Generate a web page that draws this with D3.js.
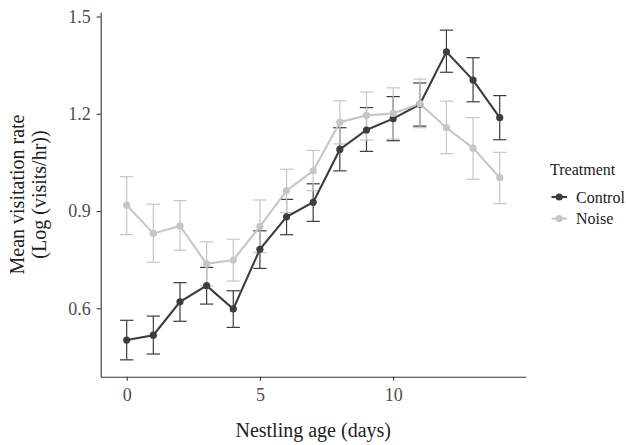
<!DOCTYPE html>
<html>
<head>
<meta charset="utf-8">
<script src="https://cdn.jsdelivr.net/npm/d3@7"></script>
<style>
    body { margin: 0; background: #fff; }
    svg text { font-family: "Liberation Serif", "DejaVu Serif", serif; fill: #222; }
    svg .tick text { font-size: 18px; fill: #4d4d4d; }
</style>
</head>
<body>
<div id="chart"></div>
<script>
// Data
var ages            =   [ 0, 1, 2, 3, 4, 5, 6, 7, 8, 9, 10, 11, 12, 13, 14 ];
var control_mean    =   [ 0.502, 0.517, 0.620, 0.670, 0.598, 0.782, 0.882, 0.927, 1.090, 1.150, 1.185, 1.229, 1.391, 1.304, 1.188 ];
var control_lo      =   [ 0.441, 0.459, 0.560, 0.613, 0.541, 0.723, 0.827, 0.868, 1.024, 1.084, 1.117, 1.162, 1.328, 1.237, 1.120 ];
var control_hi      =   [ 0.563, 0.576, 0.679, 0.726, 0.654, 0.839, 0.936, 0.984, 1.157, 1.219, 1.253, 1.295, 1.458, 1.373, 1.256 ];
var noise_mean      =   [ 0.918, 0.831, 0.854, 0.737, 0.749, 0.852, 0.963, 1.024, 1.174, 1.195, 1.201, 1.231, 1.157, 1.094, 1.003 ];
var noise_lo        =   [ 0.827, 0.742, 0.779, 0.669, 0.684, 0.772, 0.895, 0.963, 1.107, 1.119, 1.122, 1.157, 1.077, 0.998, 0.923 ];
var noise_hi        =   [ 1.006, 0.921, 0.932, 0.805, 0.813, 0.934, 1.029, 1.087, 1.240, 1.267, 1.280, 1.307, 1.239, 1.188, 1.081 ];
var treatments      =   [ 'Control', 'Noise' ];
var x_ticks         =   [ 0, 5, 10 ];
var y_ticks         =   [ 0.6, 0.9, 1.2, 1.5 ];

var chart_width     =   626;
var chart_height    =   445;
var colors          =   { Control: '#3d3d3d', Noise: '#c6c6c6' };

var series = [
    { name: 'Control', mean: control_mean, lo: control_lo, hi: control_hi },
    { name: 'Noise',   mean: noise_mean,   lo: noise_lo,   hi: noise_hi }
];
series.forEach(function(s){
    s.values = ages.map(function(a, i){
        return { x: a, y: s.mean[i], lo: s.lo[i], hi: s.hi[i] };
    });
});

// Create SVG Element
var svg             =   d3.select( '#chart' )
    .append( 'svg' )
    .attr( 'width', chart_width )
    .attr( 'height', chart_height );

// Create Scales (ggplot style 5% expansion incl. error bar width)
var x_scale         =   d3.scaleLinear()
    .domain([ -0.975, 14.975 ])
    .range([ 100.7, 525.7 ]);

var y_scale         =   d3.scaleLinear()
    .domain([ 0.389, 1.513 ])
    .range([ 376.7, 12.3 ]);

// Create Axis
var x_axis          =   d3.axisBottom( x_scale )
    .tickValues( x_ticks )
    .tickSize( 4 )
    .tickPadding( 8 )
    .tickSizeOuter( 0 );

var gx = svg.append( 'g' )
    .attr( 'class', 'x-axis' )
    .attr( 'transform', 'translate(0,' + y_scale.range()[0] + ')' )
    .call( x_axis );

var y_axis          =   d3.axisLeft( y_scale )
    .tickValues( y_ticks )
    .tickFormat( d3.format( '.1f' ) )
    .tickSize( 4 )
    .tickPadding( 6 )
    .tickSizeOuter( 0 );

var gy = svg.append( 'g' )
    .attr( 'class', 'y-axis' )
    .attr( 'transform', 'translate(' + x_scale.range()[0] + ',0)' )
    .call( y_axis );

[ gx, gy ].forEach(function(g){
    g.attr( 'font-family', null ).attr( 'font-size', null );
    g.selectAll( 'path, line' ).attr( 'stroke', '#333' ).attr( 'stroke-width', 1.1 );
    g.selectAll( 'text' ).attr( 'fill', null );
});

// Error bars
var half_w = ( x_scale( 0.25 ) - x_scale( 0 ) );
series.forEach(function(s){
    var g = svg.append( 'g' )
        .attr( 'stroke', colors[ s.name ] )
        .attr( 'stroke-width', 1.2 )
        .attr( 'fill', 'none' );
    var bars = g.selectAll( 'g' )
        .data( s.values )
        .enter()
        .append( 'g' );
    bars.append( 'line' )
        .attr( 'x1', function(d){ return x_scale(d.x); })
        .attr( 'x2', function(d){ return x_scale(d.x); })
        .attr( 'y1', function(d){ return y_scale(d.lo); })
        .attr( 'y2', function(d){ return y_scale(d.hi); });
    bars.append( 'line' )
        .attr( 'x1', function(d){ return x_scale(d.x) - half_w; })
        .attr( 'x2', function(d){ return x_scale(d.x) + half_w; })
        .attr( 'y1', function(d){ return y_scale(d.lo); })
        .attr( 'y2', function(d){ return y_scale(d.lo); });
    bars.append( 'line' )
        .attr( 'x1', function(d){ return x_scale(d.x) - half_w; })
        .attr( 'x2', function(d){ return x_scale(d.x) + half_w; })
        .attr( 'y1', function(d){ return y_scale(d.hi); })
        .attr( 'y2', function(d){ return y_scale(d.hi); });
});

// Lines
var line = d3.line()
    .x(function(d){ return x_scale(d.x); })
    .y(function(d){ return y_scale(d.y); });

series.forEach(function(s){
    svg.append( 'path' )
        .datum( s.values )
        .attr( 'd', line )
        .attr( 'fill', 'none' )
        .attr( 'stroke', colors[ s.name ] )
        .attr( 'stroke-width', 2.1 );
});

// Points
series.forEach(function(s){
    svg.append( 'g' )
        .selectAll( 'circle' )
        .data( s.values )
        .enter()
        .append( 'circle' )
        .attr( 'cx', function(d){ return x_scale(d.x); })
        .attr( 'cy', function(d){ return y_scale(d.y); })
        .attr( 'r', 3.6 )
        .attr( 'fill', colors[ s.name ] );
});

// Axis titles
svg.append( 'text' )
    .attr( 'x', ( x_scale.range()[0] + x_scale.range()[1] ) / 2 )
    .attr( 'y', 437 )
    .attr( 'text-anchor', 'middle' )
    .style( 'font-size', '20px' )
    .text( 'Nestling age (days)' );

var y_mid = ( y_scale.range()[0] + y_scale.range()[1] ) / 2;
svg.append( 'text' )
    .attr( 'transform', 'translate(24,' + y_mid + ') rotate(-90)' )
    .attr( 'text-anchor', 'middle' )
    .style( 'font-size', '20px' )
    .text( 'Mean visitation rate' );
svg.append( 'text' )
    .attr( 'transform', 'translate(46,' + y_mid + ') rotate(-90)' )
    .attr( 'text-anchor', 'middle' )
    .style( 'font-size', '20px' )
    .text( '(Log (visits/hr))' );

// Legend
var legend = svg.append( 'g' ).attr( 'transform', 'translate(550,0)' );
legend.append( 'text' )
    .attr( 'x', 0 )
    .attr( 'y', 175 )
    .style( 'font-size', '16px' )
    .text( 'Treatment' );

var keys = legend.selectAll( 'g.key' )
    .data( treatments )
    .enter()
    .append( 'g' )
    .attr( 'class', 'key' )
    .attr( 'transform', function(d, i){ return 'translate(0,' + ( 197 + i * 21.6 ) + ')'; });
keys.append( 'line' )
    .attr( 'x1', 1.5 )
    .attr( 'x2', 17 )
    .attr( 'stroke', function(d){ return colors[d]; })
    .attr( 'stroke-width', 2.1 );
keys.append( 'circle' )
    .attr( 'cx', 9.2 )
    .attr( 'r', 3.6 )
    .attr( 'fill', function(d){ return colors[d]; });
keys.append( 'text' )
    .attr( 'x', 26 )
    .attr( 'y', 5.5 )
    .style( 'font-size', '16px' )
    .text(function(d){ return d; });
</script>
</body>
</html>
